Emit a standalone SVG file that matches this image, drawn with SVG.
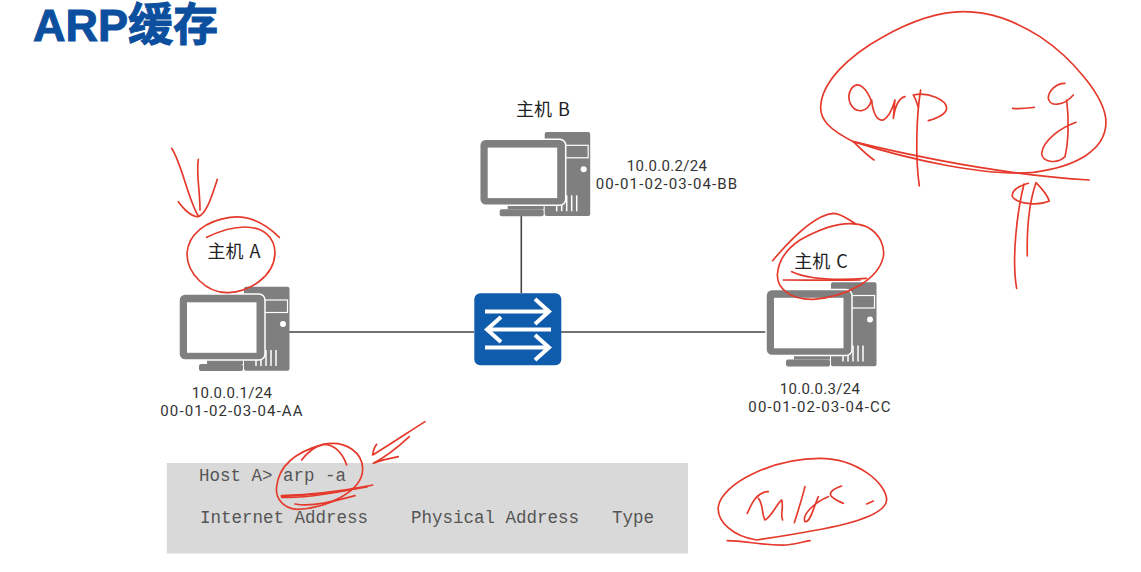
<svg xmlns="http://www.w3.org/2000/svg" xmlns:xlink="http://www.w3.org/1999/xlink" width="1141" height="572" viewBox="0 0 1141 572">
<style>
.lbl{font-family:Roboto,"Noto Sans",sans-serif;font-size:15px;letter-spacing:0.02em;fill:#333;text-anchor:middle}
.mac{letter-spacing:1.100px}
.name{font-family:"Noto Sans CJK SC","Noto Sans",sans-serif;font-size:18px;word-spacing:2px;fill:#222;text-anchor:middle}
.mono{font-family:"Liberation Mono",monospace;font-size:17.5px;fill:#555}
.title{font-family:"Liberation Sans","Noto Sans CJK SC",sans-serif;font-size:45px;font-weight:bold;fill:#0b4f9e;stroke:#0b4f9e;stroke-width:1}
.link{stroke:#444;stroke-width:1.600;fill:none}
.ink{fill:none;stroke:#e5392b;stroke-width:5;stroke-linecap:round;stroke-linejoin:round}
</style>
<defs>
<g id="pc">
<rect x="244" y="286.700" width="45.500" height="84" rx="2" fill="#7f7f7f"/>
<rect x="262" y="300" width="25.500" height="12.500" fill="#7f7f7f" stroke="#fff" stroke-width="1.200"/>
<circle cx="283" cy="324" r="3" fill="#fff"/>
<path d="M256 366V352M261 366V352M266 366V350M271 366V350M276 366V350" stroke="#fff" stroke-width="1.500" fill="none"/>
<rect x="207" y="358" width="36" height="6" fill="#7f7f7f"/>
<rect x="199" y="364" width="44" height="7" rx="2" fill="#7f7f7f"/>
<rect x="179" y="294" width="86" height="66" rx="6" fill="#7f7f7f" stroke="#fff" stroke-width="1.500"/>
<rect x="187" y="302.300" width="69.500" height="50.500" fill="#fff"/>
</g>
</defs>
<rect width="1141" height="572" fill="#fff"/>
<text class="title" x="33" y="41">ARP缓存</text>

<g id="connectors">
<path class="link" d="M289 332H474"/>
<path class="link" d="M561 332H767"/>
<path class="link" d="M521.300 216V293"/>
</g>

<g id="host-a">
<use xlink:href="#pc" href="#pc"/>
<text class="name" x="234" y="258">主机 A</text>
<text class="lbl" x="232" y="398">10.0.0.1/24</text>
<text class="lbl mac" x="232" y="416">00-01-02-03-04-AA</text>
</g>
<g id="host-b">
<use xlink:href="#pc" href="#pc" transform="translate(300.7,-154.700)"/>
<text class="name" x="543" y="116">主机 B</text>
<text class="lbl" x="667" y="171">10.0.0.2/24</text>
<text class="lbl mac" x="667" y="189">00-01-02-03-04-BB</text>
</g>
<g id="host-c">
<use xlink:href="#pc" href="#pc" transform="translate(587,-4.500)"/>
<text class="name" x="821" y="268">主机 C</text>
<text class="lbl" x="820" y="394">10.0.0.3/24</text>
<text class="lbl mac" x="820" y="412">00-01-02-03-04-CC</text>
</g>
<g id="switch">
<rect x="474.300" y="293.300" width="87" height="72" rx="6" fill="#0f5bac"/>
<g fill="none" stroke="#fff" stroke-width="4">
<path d="M485 311.500H549M535 299L549 311.500L535 324"/>
<path d="M551 329.500H487M501 317L487 329.500L501 342"/>
<path d="M485 347.500H549M535 335L549 347.500L535 360"/>
</g>
</g>

<g id="terminal">
<rect x="166.700" y="463" width="521.300" height="90.500" fill="#d9d9d9"/>
<text class="mono" x="199" y="481">Host A&gt; arp -a</text>
<text class="mono" x="200" y="523">Internet Address</text>
<text class="mono" x="411" y="523">Physical Address</text>
<text class="mono" x="612" y="523">Type</text>
</g>

<g id="ink-host-a" class="ink" transform="translate(150,130) scale(0.3333)">
<path d="M388 322C340 275 290 255 240 262C170 272 115 310 111 370C110 430 170 490 235 488C300 484 372 440 375 370C375 320 340 292 285 291C240 291 205 305 170 322"/>
<path d="M65 55C95 100 115 210 145 258"/>
<path d="M145 88C138 130 150 180 150 240"/>
<path d="M202 148C185 200 170 250 145 260C120 260 100 235 85 215"/>
</g>
<g id="ink-arp-a" class="ink" transform="translate(150,410) scale(0.3333)">
<path d="M590 165C575 120 545 102 520 103C490 110 470 130 455 150"/>
<path d="M520 103C590 90 640 130 638 180C635 245 530 295 440 298C400 295 375 265 380 230C385 180 420 130 520 103"/>
<path d="M395 262C470 265 580 245 668 225"/>
<path d="M395 258C480 255 570 245 650 230" stroke-width="7"/>
<path d="M435 282C490 292 560 272 615 257"/>
<path d="M825 35C770 70 710 110 668 135C670 120 672 112 680 103"/>
<path d="M778 80C740 115 700 145 670 160C695 150 720 145 745 140"/>
</g>
<g id="ink-host-c" class="ink" transform="translate(700,200) scale(0.3333)">
<path d="M218 182C270 120 340 45 400 40C430 42 445 60 465 70"/>
<path d="M300 120C380 75 450 60 500 80C540 100 555 140 550 170C535 240 440 290 340 298C270 300 232 265 232 225C235 170 270 140 300 120"/>
<path d="M275 215C330 240 430 240 500 235"/>
<path d="M250 240C320 240 420 242 480 240"/>
</g>
<g id="ink-arp-g" class="ink" transform="translate(800,0) scale(0.3333)">
<path d="M160 425C90 390 60 360 62 320C65 250 140 170 250 110C340 60 420 35 490 35C570 35 640 60 720 110C810 170 920 290 918 370C915 450 830 500 700 517C560 530 330 480 160 425"/>
<path d="M868 540C700 530 450 495 160 425C180 445 200 465 222 480"/>
<path d="M215 305C200 265 175 240 155 265C135 295 155 335 185 332C200 330 210 315 215 300C218 335 230 365 250 360C265 352 275 335 285 300C282 320 282 340 280 355C285 320 295 295 315 290"/>
<path d="M362 270C350 340 345 470 358 558"/>
<path d="M340 285C350 300 350 310 355 322M340 285C385 275 440 300 440 325C438 345 410 355 385 362"/>
<path d="M638 325C660 328 680 325 703 322"/>
<path d="M795 250C765 250 745 275 745 295C750 320 790 320 820 285M800 300C808 360 805 430 795 470C770 495 725 485 725 460C730 420 780 385 828 367"/>
<path d="M685 550C650 560 635 575 637 590C650 610 710 620 748 603C740 580 725 565 708 548C690 600 680 680 682 768"/>
<path d="M672 552C650 640 635 780 650 865"/>
</g>
<g id="ink-bottom-right" class="ink" transform="translate(690,440) scale(0.3333)">
<path d="M200 300C130 290 80 245 85 200C95 130 250 55 390 55C500 55 590 130 590 180C585 240 400 270 200 300"/>
<path d="M112 302C170 302 220 318 290 315C320 312 340 305 360 302"/>
<path d="M172 220C185 190 200 155 235 155"/>
<path d="M205 175C220 190 215 225 225 240C245 230 258 195 275 180C282 200 270 225 278 240"/>
<path d="M345 140C335 180 322 220 313 248"/>
<path d="M415 170C375 185 335 225 345 245C360 250 372 200 385 170"/>
<path d="M455 138C425 148 415 160 425 170C435 180 450 185 460 190"/>
<path d="M530 192L550 183"/>
</g>
</svg>
